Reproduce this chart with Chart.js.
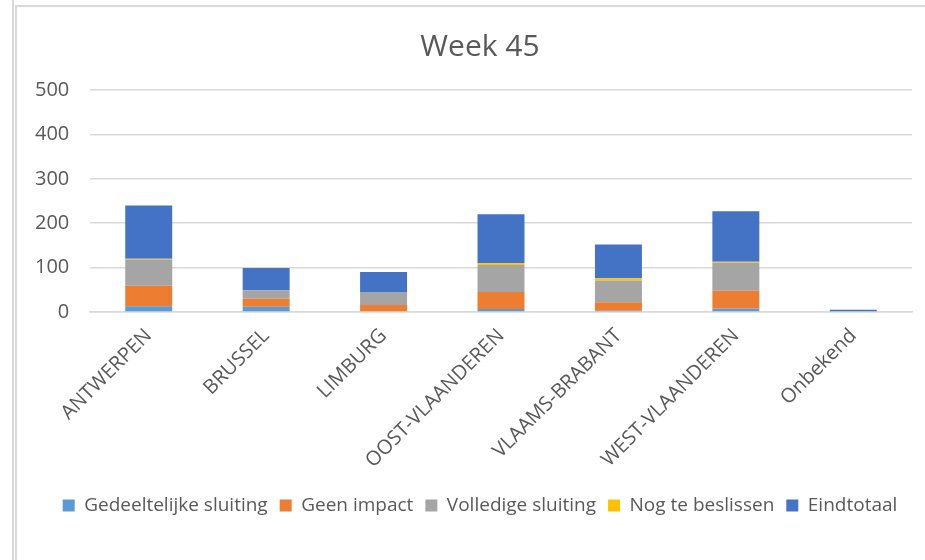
<!DOCTYPE html>
<html lang="nl">
<head>
  <meta charset="UTF-8" />
  <title>Week 45</title>
  <script src="https://cdn.jsdelivr.net/npm/chart.js"></script>
  <style>
    html, body { margin: 0; padding: 0; background: #fff; }
    body { width: 925px; height: 560px; position: relative; overflow: hidden; }
    .rule { position: absolute; background: #d9d9d9; }
    #wrap { position: absolute; left: 17px; top: 8px; width: 908px; height: 552px; }
  </style>
</head>
<body>
  <!-- frame lines around the chart -->
  <div class="rule" style="left:12px; top:0; width:2px; height:560px;"></div>
  <div class="rule" style="left:15px; top:5px; width:2px; height:555px;"></div>
  <div class="rule" style="left:15px; top:5px; width:910px; height:2px;"></div>

  <div id="wrap"><canvas id="weekChart"></canvas></div>

  <script>
    // provincies en aantallen per status
    const provincies = ['ANTWERPEN', 'BRUSSEL', 'LIMBURG', 'OOST-VLAANDEREN', 'VLAAMS-BRABANT', 'WEST-VLAANDEREN', 'Onbekend'];
    const gedeeltelijk = [13, 12, 0, 7, 3, 8, 0];
    const geenImpact   = [46, 18, 16, 38, 19, 40, 0];
    const volledig     = [59, 19, 29, 61, 49, 63, 0];
    const nogTe        = [2, 0, 0, 4, 5, 2, 0];
    const eindtotaal   = [120, 50, 45, 110, 76, 114, 5];
    const yTicks = [0, 100, 200, 300, 400, 500];

    const grey = '#595959';
    Chart.defaults.font.family = "'Open Sans', sans-serif";
    Chart.defaults.color = grey;

    const reeks = (label, data, kleur) => ({
      label, data, backgroundColor: kleur, borderWidth: 0,
      barPercentage: 0.4, categoryPercentage: 1
    });

    new Chart(document.getElementById('weekChart'), {
      type: 'bar',
      data: {
        labels: provincies,
        datasets: [
          reeks('Gedeeltelijke sluiting', gedeeltelijk, '#5B9BD5'),
          reeks('Geen impact', geenImpact, '#ED7D31'),
          reeks('Volledige sluiting', volledig, '#A5A5A5'),
          reeks('Nog te beslissen', nogTe, '#FFC000'),
          reeks('Eindtotaal', eindtotaal, '#4472C4')
        ]
      },
      options: {
        responsive: true,
        maintainAspectRatio: false,
        animation: false,
        layout: { padding: { left: 31, right: 13, top: 0, bottom: 35 } },
        plugins: {
          title: {
            display: true, text: 'Week 45', color: grey,
            font: { size: 30, weight: 'normal' },
            padding: { top: 21, bottom: 25 }
          },
          legend: {
            position: 'bottom',
            labels: { boxWidth: 12, boxHeight: 12, padding: 12, color: grey, font: { size: 19 } }
          },
          tooltip: { enabled: false }
        },
        scales: {
          x: {
            stacked: true,
            grid: { display: false },
            border: { color: '#d9d9d9', width: 1.5 },
            ticks: { maxRotation: 45, minRotation: 45, padding: 4, font: { size: 20 } },
            afterFit: s => { s.height = 172; }
          },
          y: {
            stacked: true,
            min: 0, max: 500,
            afterBuildTicks: s => { s.ticks = yTicks.map(v => ({ value: v })); },
            grid: { color: '#d9d9d9', lineWidth: 1.5, drawTicks: false },
            border: { display: false },
            // labels rechts uitgelijnd, 20px links van het plotvlak
            ticks: { mirror: true, crossAlign: 'far', padding: -55, font: { size: 20 } },
            afterFit: s => { s.width = 42; }
          }
        }
      }
    });
  </script>
</body>
</html>
